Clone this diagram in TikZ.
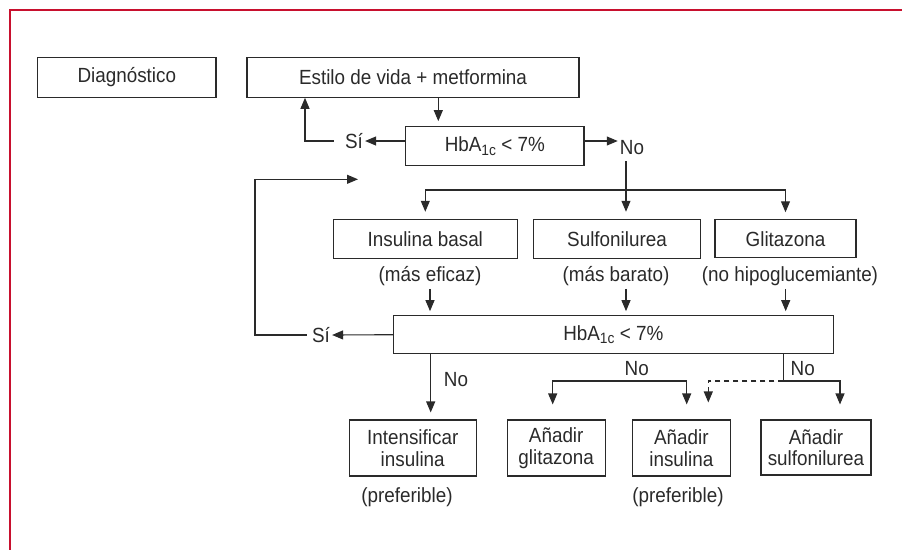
\documentclass[tikz,border=0pt]{standalone}
\usepackage{fontspec}
\setmainfont[FakeStretch=0.92]{Liberation Sans}
\usetikzlibrary{arrows.meta}
\definecolor{framered}{HTML}{C8102E}
\definecolor{ink}{HTML}{2A2A2A}
\newcommand{\hbaone}{HbA\raisebox{-0.35ex}{\fontsize{15}{15}\selectfont 1c} {<} 7\%}
\begin{document}
\begin{tikzpicture}[x=1pt,y=-1pt,
  font=\fontsize{20.5}{21.5}\selectfont, text=ink,
  box/.style={draw=ink, line width=1.1pt, inner sep=0pt, align=center},
  lbl/.style={inner sep=2pt},
  ln/.style={draw=ink, line width=1.1pt},
  tip/.tip={Triangle[length=11pt,width=9pt]},
  arr/.style={draw=ink, line width=1.1pt, -tip},
  darr/.style={arr, dash pattern=on 5pt off 4pt}]
\useasboundingbox (0,0) rectangle (902,550);
\draw[framered, line width=1.5pt] (902,10) -- (10,10) -- (10,550);

% boxes
\node[box, minimum width=178.3pt, minimum height=39.5pt] (diag) at (126.8,77.5) {Diagnóstico};
\node[box, minimum width=332pt, minimum height=39.5pt] (estilo) at (413,77.5) {Estilo de vida + metformina};
\node[box, minimum width=178.3pt, minimum height=38.6pt] (hba1) at (494.8,146) {\hbaone};
\node[box, minimum width=184pt, minimum height=39pt] (ins) at (425.3,238.8) {Insulina basal};
\node[box, minimum width=167.4pt, minimum height=39pt] (sul) at (617,238.8) {Sulfonilurea};
\node[box, minimum width=141pt, minimum height=38pt] (gli) at (785.5,238.8) {Glitazona};
\node[box, minimum width=440pt, minimum height=38pt] (hba2) at (613.3,334.7) {\hbaone};
\node[box, minimum width=126.7pt, minimum height=56pt] (intens) at (412.7,448) {Intensificar\\insulina};
\node[box, minimum width=98.3pt, minimum height=56pt] (aglit) at (556.2,448) {Añadir\\glitazona};
\node[box, minimum width=98pt, minimum height=56pt] (ains) at (681.3,448) {Añadir\\insulina};
\node[box, minimum width=110pt, minimum height=55pt] (asulf) at (816,447.5) {Añadir\\sulfonilurea};

% labels
\node[lbl] (si1) at (354,141) {Sí};
\node[lbl] (no1) at (632,148) {No};
\node[lbl] (capins) at (430,276) {(más eficaz)};
\node[lbl] (capsul) at (616,276) {(más barato)};
\node[lbl] (capgli) at (790,276) {(no hipoglucemiante)};
\node[lbl] (si2) at (321,335) {Sí};
\node[lbl] (nb1) at (456,380) {No};
\node[lbl] (nb2) at (636.7,369) {No};
\node[lbl] (nb3) at (802.7,369) {No};
\node[lbl] (pref1) at (407,497) {(preferible)};
\node[lbl] (pref2) at (678,497) {(preferible)};

% helper columns
\coordinate (kA) at (438.3,0);
\coordinate (kB) at (305,0);
\coordinate (j1) at (626,190);
\coordinate (kci) at (430,0);
\coordinate (kcs) at (626,0);
\coordinate (kcg) at (785.7,0);
\coordinate (kL) at (255,0);
\coordinate (loopend) at (358,179.3);
\coordinate (kint) at (430.7,0);
\coordinate (tL) at (552.7,381);
\coordinate (tR) at (686.7,381);
\coordinate (rJ) at (783.3,381);
\coordinate (kRS) at (840,0);
\coordinate (kD) at (708.3,0);

% top part
\draw[arr, shorten >=5pt] (estilo.south -| kA) -- (hba1.north -| kA);
\draw[arr] (hba1.west |- si1) -- (si1.east);
\draw[arr, shorten <=9pt] (si1.west) -| (estilo.south -| kB);
\draw[arr] ([yshift=5pt]hba1.east) -- (no1.west |- si1);
\draw[ln, shorten <=4pt] (no1.south -| j1) -- (j1);
\draw[arr, shorten >=7pt] (j1) -- (sul.north -| j1);
\draw[arr, shorten >=7pt] (j1) -| (ins.north);
\draw[arr, shorten >=7pt] (j1) -| (gli.north);

% captions to second test
\draw[arr, shorten >=4pt, shorten <=1pt] (capins.south -| kci) -- (hba2.north -| kci);
\draw[arr, shorten >=4pt, shorten <=1pt] (capsul.south -| kcs) -- (hba2.north -| kcs);
\draw[arr, shorten >=4pt, shorten <=1pt] (capgli.south -| kcg) -- (hba2.north -| kcg);

% loop back
\draw[arr] (hba2.west) -- (si2.east);
\draw[arr, shorten <=3pt] (si2.west) -- (si2.west -| kL) |- (loopend);

% bottom
\draw[arr, shorten >=7pt] (hba2.south -| kint) -- (intens.north -| kint);
\draw[tip-tip, draw=ink, line width=1.1pt, shorten <=15pt, shorten >=15pt]
  (aglit.north -| tL) |- (tR) -- (ains.north -| tR);
\draw[ln] (hba2.south -| rJ) -- (rJ);
\draw[arr, shorten >=15pt] (rJ) -| (asulf.north -| kRS);
\draw[darr, shorten >=17pt] (rJ) -| (ains.north -| kD);
\end{tikzpicture}
\end{document}
